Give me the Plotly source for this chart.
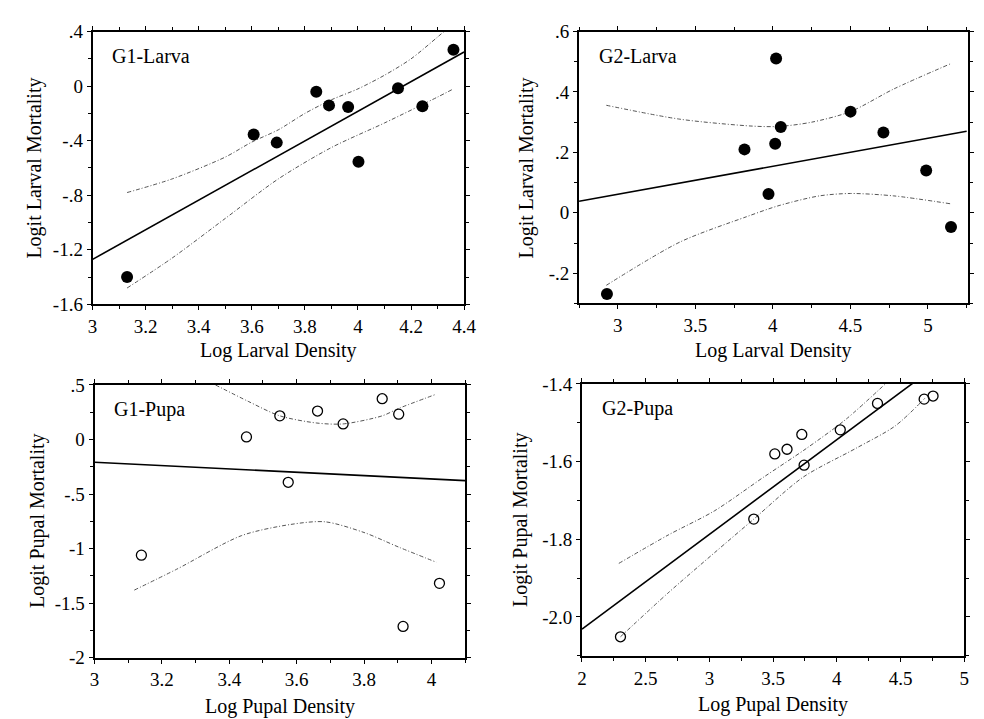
import plotly.graph_objects as go

# ---------------- data ----------------
# G1-Larva
g1l_x = [3.13, 3.607, 3.694, 3.843, 3.891, 3.963, 4.002, 4.151, 4.243, 4.36]
g1l_y = [-1.40, -0.354, -0.414, -0.041, -0.141, -0.153, -0.554, -0.015, -0.148, 0.267]
g1l_fit_x = [3.0, 4.4]
g1l_fit_y = [-1.27, 0.25]
g1l_up_x = [3.13, 3.3, 3.5, 3.6, 3.7, 3.8, 3.9, 4.0, 4.1, 4.2, 4.3, 4.36]
g1l_up_y = [-0.78, -0.68, -0.52, -0.41, -0.32, -0.20, -0.10, -0.02, 0.08, 0.20, 0.36, 0.46]
g1l_lo_x = [3.13, 3.3, 3.5, 3.7, 3.9, 4.1, 4.3, 4.36]
g1l_lo_y = [-1.48, -1.26, -0.97, -0.68, -0.45, -0.27, -0.08, -0.02]

# G2-Larva
g2l_x = [2.93, 3.817, 3.972, 4.015, 4.021, 4.051, 4.501, 4.713, 4.989, 5.149]
g2l_y = [-0.269, 0.210, 0.0625, 0.229, 0.511, 0.284, 0.335, 0.266, 0.140, -0.047]
g2l_fit_x = [2.75, 5.25]
g2l_fit_y = [0.038, 0.270]
g2l_up_x = [2.926, 3.40, 3.87, 4.04, 4.25, 4.50, 4.78, 5.144]
g2l_up_y = [0.356, 0.310, 0.287, 0.286, 0.300, 0.335, 0.410, 0.493]
g2l_lo_x = [2.926, 3.40, 3.83, 4.04, 4.30, 4.50, 4.78, 5.144]
g2l_lo_y = [-0.240, -0.097, -0.013, 0.024, 0.056, 0.064, 0.056, 0.030]

# G1-Pupa
g1p_x = [3.139, 3.451, 3.55, 3.575, 3.662, 3.738, 3.854, 3.903, 3.916, 4.024]
g1p_y = [-1.06, 0.024, 0.217, -0.392, 0.261, 0.143, 0.374, 0.232, -1.713, -1.318]
g1p_fit_x = [3.0, 4.1]
g1p_fit_y = [-0.208, -0.377]
g1p_up_x = [3.359, 3.456, 3.55, 3.66, 3.738, 3.854, 3.903, 4.015]
g1p_up_y = [0.50, 0.35, 0.217, 0.151, 0.143, 0.217, 0.285, 0.416]
g1p_lo_x = [3.118, 3.243, 3.437, 3.583, 3.684, 3.80, 3.903, 4.015]
g1p_lo_y = [-1.38, -1.19, -0.88, -0.778, -0.754, -0.852, -0.986, -1.125]

# G2-Pupa
g2p_x = [2.302, 3.348, 3.513, 3.609, 3.725, 3.743, 4.027, 4.319, 4.685, 4.755]
g2p_y = [-2.051, -1.748, -1.580, -1.568, -1.530, -1.609, -1.518, -1.450, -1.439, -1.431]
g2p_fit_x = [2.0, 4.6]
g2p_fit_y = [-2.031, -1.397]
g2p_up_x = [2.289, 2.676, 3.038, 3.425, 3.761, 4.071, 4.419]
g2p_up_y = [-1.862, -1.789, -1.727, -1.640, -1.566, -1.491, -1.388]
g2p_lo_x = [2.302, 2.676, 3.038, 3.348, 3.735, 4.148, 4.458, 4.69]
g2p_lo_y = [-2.051, -1.938, -1.835, -1.748, -1.640, -1.566, -1.508, -1.437]

# tick labels
g1l_xticks = [3, 3.2, 3.4, 3.6, 3.8, 4, 4.2, 4.4]
g1l_xtext = ["3", "3.2", "3.4", "3.6", "3.8", "4", "4.2", "4.4"]
g1l_yticks = [0.4, 0, -0.4, -0.8, -1.2, -1.6]
g1l_ytext = [".4", "0", "-.4", "-.8", "-1.2", "-1.6"]
g2l_xticks = [3, 3.5, 4, 4.5, 5]
g2l_xtext = ["3", "3.5", "4", "4.5", "5"]
g2l_yticks = [0.6, 0.4, 0.2, 0, -0.2]
g2l_ytext = [".6", ".4", ".2", "0", "-.2"]
g1p_xticks = [3, 3.2, 3.4, 3.6, 3.8, 4]
g1p_xtext = ["3", "3.2", "3.4", "3.6", "3.8", "4"]
g1p_yticks = [0.5, 0, -0.5, -1, -1.5, -2]
g1p_ytext = [".5", "0", "-.5", "-1", "-1.5", "-2"]
g2p_xticks = [2, 2.5, 3, 3.5, 4, 4.5, 5]
g2p_xtext = ["2", "2.5", "3", "3.5", "4", "4.5", "5"]
g2p_yticks = [-1.4, -1.6, -1.8, -2.0]
g2p_ytext = ["-1.4", "-1.6", "-1.8", "-2.0"]

W, H = 984, 719
FONT = "Liberation Serif"

panels = [
    dict(name="G1-Larva", px=(81, 459), py=(14, 295), xr=[3, 4.4], yr=[-1.6, 0.4],
         x=g1l_x, y=g1l_y, fx=g1l_fit_x, fy=g1l_fit_y, ux=g1l_up_x, uy=g1l_up_y,
         lx=g1l_lo_x, ly=g1l_lo_y, filled=True,
         xt=(g1l_xticks, g1l_xtext), yt=(g1l_yticks, g1l_ytext), xminor=0.1, yminor=0.2,
         xtitle="Log Larval Density", ytitle="Logit Larval Mortality", xtoff=47, ytoff=59),
    dict(name="G2-Larva", px=(576, 972), py=(14, 294), xr=[2.75, 5.26], yr=[-0.3, 0.6],
         x=g2l_x, y=g2l_y, fx=g2l_fit_x, fy=g2l_fit_y, ux=g2l_up_x, uy=g2l_up_y,
         lx=g2l_lo_x, ly=g2l_lo_y, filled=True,
         xt=(g2l_xticks, g2l_xtext), yt=(g2l_yticks, g2l_ytext), xminor=0.25, yminor=0.1,
         xtitle="Log Larval Density", ytitle="Logit Larval Mortality", xtoff=48, ytoff=53),
    dict(name="G1-Pupa", px=(83, 460), py=(378, 659), xr=[3, 4.1], yr=[-2, 0.5],
         x=g1p_x, y=g1p_y, fx=g1p_fit_x, fy=g1p_fit_y, ux=g1p_up_x, uy=g1p_up_y,
         lx=g1p_lo_x, ly=g1p_lo_y, filled=False,
         xt=(g1p_xticks, g1p_xtext), yt=(g1p_yticks, g1p_ytext), xminor=0.1, yminor=0.25,
         xtitle="Log Pupal Density", ytitle="Logit Pupal Mortality", xtoff=50, ytoff=58),
    dict(name="G2-Pupa", px=(579, 968), py=(377, 657), xr=[2, 5], yr=[-2.1, -1.4],
         x=g2p_x, y=g2p_y, fx=g2p_fit_x, fy=g2p_fit_y, ux=g2p_up_x, uy=g2p_up_y,
         lx=g2p_lo_x, ly=g2p_lo_y, filled=False,
         xt=(g2p_xticks, g2p_xtext), yt=(g2p_yticks, g2p_ytext), xminor=0.25, yminor=0.1,
         xtitle="Log Pupal Density", ytitle="Logit Pupal Mortality", xtoff=50, ytoff=62),
]

fig = go.Figure()
layout = dict(width=W, height=H, margin=dict(l=0, r=0, t=0, b=0),
              paper_bgcolor="white", plot_bgcolor="white", showlegend=False,
              font=dict(family=FONT, color="black"))
annotations = []

for i, p in enumerate(panels):
    k = "" if i == 0 else str(i + 1)
    xa, ya = "x" + k, "y" + k
    ci = dict(color="#555555", width=1, dash="4px,2px,1px,2px", shape="spline", smoothing=0.8)
    fig.add_trace(go.Scatter(x=p["ux"], y=p["uy"], mode="lines", line=ci, xaxis=xa, yaxis=ya))
    fig.add_trace(go.Scatter(x=p["lx"], y=p["ly"], mode="lines", line=ci, xaxis=xa, yaxis=ya))
    fig.add_trace(go.Scatter(x=p["fx"], y=p["fy"], mode="lines",
                             line=dict(color="black", width=1.6), xaxis=xa, yaxis=ya))
    if p["filled"]:
        mk = dict(symbol="circle", size=12, color="black", line=dict(color="black", width=0))
    else:
        mk = dict(symbol="circle-open", size=10, color="black", line=dict(color="black", width=1.3))
    fig.add_trace(go.Scatter(x=p["x"], y=p["y"], mode="markers", marker=mk,
                             cliponaxis=False, xaxis=xa, yaxis=ya))

    x0, x1 = p["px"]
    y0, y1 = p["py"]
    common = dict(showline=True, linecolor="black", linewidth=1.8, mirror="allticks",
                  ticks="outside", ticklen=4, tickwidth=1, tickcolor="black",
                  showgrid=False, zeroline=False, fixedrange=True,
                  tickfont=dict(family=FONT, size=19, color="black"))
    layout["xaxis" + k] = dict(common, domain=[x0 / W, x1 / W], range=p["xr"], anchor=ya,
                               tickmode="array", tickvals=p["xt"][0], ticktext=p["xt"][1],
                               minor=dict(dtick=p["xminor"], ticks="outside", ticklen=3,
                                          tickcolor="black", showgrid=False))
    layout["yaxis" + k] = dict(common, domain=[1 - y1 / H, 1 - y0 / H], range=p["yr"], anchor=xa,
                               tickmode="array", tickvals=p["yt"][0], ticktext=p["yt"][1],
                               minor=dict(dtick=p["yminor"], ticks="outside", ticklen=3,
                                          tickcolor="black", showgrid=False))
    # panel label
    annotations.append(dict(text=p["name"], xref="paper", yref="paper",
                            x=(x0 + 18) / W, y=1 - (y0 + 25) / H, xanchor="left", yanchor="middle",
                            showarrow=False, font=dict(family=FONT, size=20, color="black")))
    # axis titles
    annotations.append(dict(text=p["xtitle"], xref="paper", yref="paper",
                            x=(x0 + x1) / 2 / W, y=1 - (y1 + p["xtoff"]) / H,
                            xanchor="center", yanchor="middle", showarrow=False,
                            font=dict(family=FONT, size=20, color="black")))
    annotations.append(dict(text=p["ytitle"], xref="paper", yref="paper",
                            x=(x0 - p["ytoff"]) / W, y=1 - (y0 + y1) / 2 / H,
                            xanchor="center", yanchor="middle", textangle=-90, showarrow=False,
                            font=dict(family=FONT, size=20, color="black")))

layout["annotations"] = annotations
fig.update_layout(**layout)
fig.write_html("out.html")
